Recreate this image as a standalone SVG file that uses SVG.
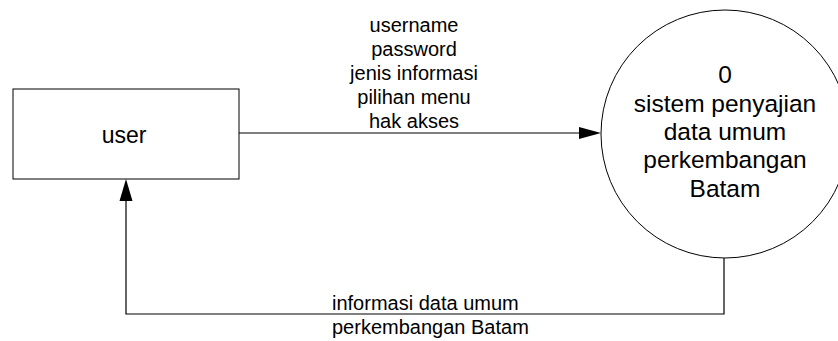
<svg xmlns="http://www.w3.org/2000/svg" width="838" height="341" viewBox="0 0 838 341">
<style>
.shape{fill:#fff;stroke:#000;stroke-width:1}
.line{fill:none;stroke:#000;stroke-width:1.2}
.arrow{fill:#000;stroke:none}
text{font-family:"Liberation Sans",Arial,sans-serif;fill:#000}
.lbl{font-size:20px}
.ctr{text-anchor:middle}
</style>
<rect width="838" height="341" fill="#fff"/>
<g id="connectors">
  <g id="flow-in">
    <polyline class="line" points="239,133 582,133"/>
    <polygon class="arrow" points="601,133 579,127 579,139"/>
    <text class="lbl ctr" x="414" y="32">username</text>
    <text class="lbl ctr" x="414" y="56">password</text>
    <text class="lbl ctr" x="414" y="80">jenis informasi</text>
    <text class="lbl ctr" x="414" y="104">pilihan menu</text>
    <text class="lbl ctr" x="414" y="128">hak akses</text>
  </g>
  <g id="flow-out">
    <polyline class="line" points="724,258 724,314 126,314 126,197"/>
    <polygon class="arrow" points="126,179 119.5,201 132.5,201"/>
    <text class="lbl" x="332" y="310">informasi data umum</text>
    <text class="lbl" x="332" y="334">perkembangan Batam</text>
  </g>
</g>
<g id="user">
  <rect class="shape" x="13" y="89" width="226" height="90"/>
  <text class="ctr" x="124" y="143" font-size="23">user</text>
</g>
<g id="process-0">
  <circle class="shape" cx="725" cy="134" r="124"/>
  <text class="ctr" x="725" y="83" font-size="24.5">0</text>
  <text class="ctr" x="725" y="112" font-size="24.5">sistem penyajian</text>
  <text class="ctr" x="725" y="140" font-size="24.5">data umum</text>
  <text class="ctr" x="725" y="168" font-size="24.5">perkembangan</text>
  <text class="ctr" x="725" y="197" font-size="24.5">Batam</text>
</g>
</svg>
